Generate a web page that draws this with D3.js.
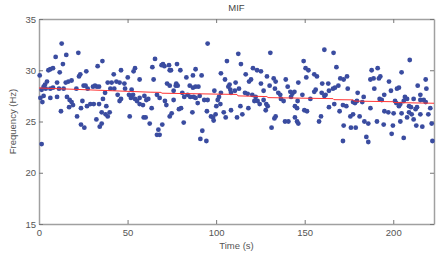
<!DOCTYPE html>
<html>
<head>
<meta charset="utf-8">
<script src="https://cdn.jsdelivr.net/npm/d3@7"></script>
<style>
  body { margin: 0; background: #fff; }
  text { font-family: "Liberation Sans", Arial, sans-serif; }
</style>
</head>
<body>
<div id="chart-area"></div>
<script>
// scatter points: time (s) and mean instantaneous frequency (Hz)
const time = [
  0.4,12.8,22.2,15.4,9.4,35.8,13.5,6.4,7.9,5.3,33.1,11.7,26.7,22.6,23.3,4.5,3.4,2.6,10.2,18.4,16.6,15.1,25.2,26.3,31.6,32.7,30.5,33.9,1.5,3.8,6.4,7.9,11.3,13.9,21.1,27.5,0.8,2.6,6.4,10.2,15.8,17.3,18.4,17.0,19.2,1.9,24.5,23.7,27.1,29.0,30.9,33.9,36.1,12.4,35.4,21.5,23.7,25.6,32.4,34.3,35.4,1.5,
  65.5,70.0,70.8,69.2,64.0,73.8,54.2,53.4,46.3,42.2,50.1,56.8,64.7,38.8,41.0,43.7,45.5,48.2,72.3,40.3,42.5,37.3,48.6,52.3,53.1,44.4,46.3,45.5,50.8,51.9,54.2,55.3,56.8,59.5,61.7,60.6,66.6,68.1,71.1,56.8,58.7,63.6,71.9,38.0,39.9,38.8,37.6,51.2,59.1,60.2,73.8,62.5,69.6,67.4,66.6,68.1,
  95.2,106.1,73.4,77.9,74.5,79.8,88.4,86.9,91.8,83.2,102.7,77.5,78.3,77.2,105.0,107.6,106.9,73.8,85.1,86.9,88.4,90.0,76.0,80.9,99.0,108.0,108.4,110.6,82.0,83.9,85.4,87.3,88.4,90.7,93.3,95.2,102.7,101.6,100.9,102.4,100.1,76.0,89.6,80.2,79.0,86.6,94.8,74.9,97.1,98.2,98.6,99.7,108.4,104.3,105.4,81.7,92.2,91.1,94.5,
  112.5,130.6,114.0,120.8,123.1,125.3,116.7,128.7,119.7,118.6,132.5,133.6,139.3,111.0,125.3,130.2,112.9,126.8,133.2,140.4,146.4,135.1,136.2,141.9,143.0,142.3,144.2,116.3,117.8,120.4,122.3,121.6,123.4,124.6,126.8,128.3,129.1,136.6,138.1,146.0,113.7,118.2,128.0,144.5,145.7,111.8,114.8,133.6,132.9,144.5,145.7,146.4,138.9,140.8,131.3,
  161.1,166.3,167.9,149.4,150.5,152.1,155.4,156.9,150.9,159.9,163.3,172.0,170.1,173.9,169.0,166.0,167.1,156.2,155.4,174.3,159.6,161.8,161.1,163.7,148.7,153.2,179.9,183.3,177.3,178.4,179.5,182.5,166.7,163.7,171.6,173.5,169.7,149.8,151.3,159.2,158.1,177.3,175.8,181.0,183.7,172.0,176.1,178.8,171.6,184.8,
  209.3,191.2,187.8,204.7,192.7,191.9,187.1,188.9,197.6,218.3,189.3,213.8,203.2,202.1,198.7,218.7,194.9,215.3,192.3,193.5,201.0,201.7,206.6,207.8,205.9,211.5,215.3,217.2,218.3,187.1,204.0,203.2,208.9,210.0,213.4,212.6,220.9,195.0,197.2,200.2,204.7,208.9,210.4,215.3,219.8,185.9,190.8,194.6,199.8,204.0,211.5,213.0,216.4,221.7,207.8,199.1,205.9,185.9,222.1
];
const freq = [
  29.5,32.6,31.7,31.5,31.3,30.9,30.6,30.1,30.2,30.0,30.4,29.8,29.9,29.4,29.6,28.9,28.6,28.4,28.8,29.0,28.9,28.8,28.5,28.5,28.5,28.4,28.4,28.4,28.1,28.2,28.2,28.3,28.2,28.2,28.2,28.2,27.3,27.5,27.3,27.4,27.4,27.1,26.9,26.4,26.6,26.9,27.0,26.3,26.5,26.7,26.7,26.7,27.2,26.0,25.9,25.5,24.7,24.4,25.2,24.5,24.8,22.8,
  31.1,30.6,30.4,30.5,30.3,30.0,30.2,29.9,30.0,29.6,29.3,29.1,29.1,28.8,28.8,28.9,28.8,28.7,28.7,28.2,28.2,27.8,28.2,28.1,27.6,27.6,27.2,27.0,27.6,27.3,27.2,27.0,27.3,27.5,27.2,27.1,27.6,27.3,27.0,26.7,26.6,26.3,26.6,26.5,25.9,25.5,25.7,25.5,25.4,25.4,25.5,24.8,24.7,24.2,23.7,23.7,
  32.6,30.9,30.5,30.6,30.0,30.0,30.1,29.5,29.5,29.3,29.7,28.7,28.5,28.5,29.1,28.6,28.4,28.5,28.5,28.3,28.4,28.4,28.0,27.8,28.0,28.1,27.8,28.0,27.4,27.6,27.4,27.4,27.3,27.5,27.1,27.1,27.8,27.4,27.1,26.7,26.5,27.1,26.8,26.3,26.2,25.9,26.0,25.8,25.5,25.4,25.1,25.7,26.1,25.9,25.4,24.9,24.1,23.3,23.1,
  31.6,31.7,30.6,30.2,30.0,29.9,29.6,29.4,29.1,28.9,29.2,28.9,29.1,28.8,28.7,28.5,28.2,28.0,28.2,28.4,28.8,27.8,27.6,27.9,27.7,27.4,27.9,27.8,27.7,27.6,27.4,27.0,27.0,26.7,27.1,26.7,26.5,27.2,27.0,27.0,26.5,26.3,26.1,26.5,26.3,25.4,25.7,25.5,25.3,25.4,25.0,24.8,25.0,25.0,24.4,
  32.0,31.7,30.3,30.9,30.2,30.0,29.6,29.4,29.3,28.7,28.7,29.1,29.2,29.4,28.5,28.2,28.3,28.1,27.9,28.2,27.8,27.6,27.5,28.0,27.6,27.2,27.8,27.4,26.9,26.8,27.0,26.9,26.7,26.4,26.6,26.5,26.0,26.1,26.0,25.5,25.0,25.7,25.5,25.5,25.0,24.6,24.4,24.4,23.1,23.5,
  31.0,30.2,30.0,29.8,29.4,29.2,29.1,29.2,28.9,29.1,28.2,28.5,28.3,28.2,28.0,28.2,27.6,27.6,27.2,27.1,27.0,26.8,27.4,27.2,27.0,27.2,27.1,27.1,26.9,26.3,26.7,26.5,26.5,26.4,26.4,26.2,26.3,26.0,25.9,25.8,25.8,25.9,25.7,25.7,25.7,24.8,25.0,24.7,24.6,25.0,25.2,24.6,24.5,24.8,25.4,23.8,23.4,23.0,23.1
];

// red trend line
const trendTime = [0, 62.7, 68.9, 69.4, 111.8, 112.3, 128.7, 129.3, 166.0, 166.5, 177.3, 177.8, 199.9, 200.4, 223];
const trendFreq = [28.27, 27.86, 27.84, 27.76, 27.64, 27.5, 27.43, 27.33, 27.23, 27.13, 27.11, 26.99, 26.93, 26.85, 26.78];

const xTicks = [0, 50, 100, 150, 200];
const yTicks = [15, 20, 25, 30, 35];

const margin = { top: 19, right: 9, bottom: 32, left: 39 };
const width = 443 - margin.left - margin.right;
const height = 256 - margin.top - margin.bottom;

const svg = d3.select("#chart-area")
  .append("svg")
  .attr("width", 443)
  .attr("height", 256);

const g = svg.append("g")
  .attr("transform", `translate(${margin.left}, ${margin.top})`);

const x = d3.scaleLinear().domain([0, 223]).range([0, width]);
const y = d3.scaleLinear().domain([15, 35]).range([height, 0]);

const axisColor = "#a0a0a0";
const labelColor = "#555";

// axes with inward ticks on all four sides
const xAxisGroup = g.append("g").attr("transform", `translate(0,${height})`)
  .call(d3.axisBottom(x).tickValues(xTicks).tickSizeInner(-4).tickSizeOuter(0).tickPadding(5));
const xTopGroup = g.append("g")
  .call(d3.axisTop(x).tickValues(xTicks).tickSizeInner(-4).tickSizeOuter(0).tickFormat(""));
const yAxisGroup = g.append("g")
  .call(d3.axisLeft(y).tickValues(yTicks).tickSizeInner(-4).tickSizeOuter(0).tickPadding(3));
const yRightGroup = g.append("g").attr("transform", `translate(${width},0)`)
  .call(d3.axisRight(y).tickValues(yTicks).tickSizeInner(-4).tickSizeOuter(0).tickFormat(""));

[xAxisGroup, xTopGroup, yAxisGroup, yRightGroup].forEach(a => {
  a.selectAll("path").attr("stroke", axisColor).attr("stroke-width", 1.5);
  a.selectAll("line").attr("stroke", "#777");
  a.selectAll("text").attr("fill", labelColor).attr("font-size", "9.5px");
});

const points = time.map((t, i) => ({ t: t, f: freq[i] }));

g.selectAll("circle")
  .data(points)
  .enter()
  .append("circle")
  .attr("cx", d => x(d.t))
  .attr("cy", d => y(d.f))
  .attr("r", 2.4)
  .attr("fill", "#3a4ca0");

const line = d3.line().x(d => x(d[0])).y(d => y(d[1]));
g.append("path")
  .datum(trendTime.map((t, i) => [t, trendFreq[i]]))
  .attr("d", line)
  .attr("fill", "none")
  .attr("stroke", "#ff3333")
  .attr("stroke-width", 1);

svg.append("text")
  .attr("x", margin.left + width / 2)
  .attr("y", 11)
  .attr("text-anchor", "middle")
  .attr("font-size", "9.5px")
  .attr("fill", "#444")
  .text("MIF");

svg.append("text")
  .attr("x", margin.left + width / 2)
  .attr("y", 249)
  .attr("text-anchor", "middle")
  .attr("font-size", "9.5px")
  .attr("fill", labelColor)
  .text("Time (s)");

svg.append("text")
  .attr("transform", `translate(16, ${margin.top + height / 2}) rotate(-90)`)
  .attr("text-anchor", "middle")
  .attr("font-size", "9.5px")
  .attr("fill", labelColor)
  .text("Frequency (Hz)");
</script>
</body>
</html>
